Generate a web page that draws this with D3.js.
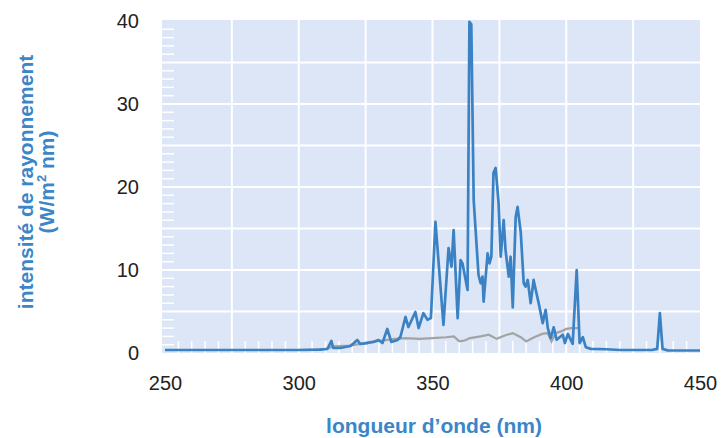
<!DOCTYPE html>
<html>
<head>
<meta charset="utf-8">
<script src="https://cdn.jsdelivr.net/npm/d3@7"></script>
<style>
  body { margin: 0; background: #fff; }
  svg { display: block; font-family: "Liberation Sans", Arial, sans-serif; }
</style>
</head>
<body>
<div id="chart"></div>
<script>
// lamp spectrum (blue)
const lampNm = [250, 280, 300, 308, 310.7, 312.2, 312.9, 315.5, 319.3, 321.9, 323.0, 325.7, 327.9, 329.8,
  331.3, 333.1, 334.6, 336.9, 338.0, 339.9, 341.0, 343.6, 344.8, 346.6, 348.1, 349.4, 351.1, 354.1,
  356.0, 357.1, 357.9, 359.4, 360.5, 361.2, 363.1, 363.8, 364.5, 365.4, 367.2, 368.0, 368.7, 369.1, 370.6,
  371.3, 372.0, 372.8, 373.6, 374.7, 375.5, 376.6, 377.3, 378.5, 379.2, 380.0, 381.1, 381.8, 383.0,
  384.1, 384.8, 385.6, 386.7, 387.8, 388.6, 389.7, 391.2, 392.3, 393.1, 394.2, 395.3, 396.4, 398.7,
  399.5, 400.6, 402.4, 403.9, 405.0, 406.2, 407.3, 409.2, 415, 420, 432, 434, 435, 436, 438, 450];
const lampVal = [0.36, 0.36, 0.36, 0.4, 0.48, 1.45, 0.6, 0.6, 0.84, 1.57, 1.08, 1.2, 1.33, 1.57,
  1.2, 2.9, 1.33, 1.57, 1.93, 4.34, 3.13, 4.94, 3.0, 4.8, 4.0, 4.2, 15.8, 3.4,
  12.65, 10.4, 14.8, 4.2, 11.2, 10.8, 7.6, 39.9, 39.6, 18.4, 9.4, 8.4, 9.2, 6.2, 12.0,
  10.8, 11.6, 21.7, 22.3, 18.1, 11.6, 16.0, 12.4, 9.2, 11.6, 5.5, 16.4, 17.6, 14.5,
  8.4, 8.0, 8.8, 6.0, 8.8, 7.6, 6.0, 3.6, 5.2, 3.0, 1.8, 3.1, 1.6, 2.2,
  1.2, 2.3, 1.1, 10.0, 1.2, 1.9, 0.7, 0.5, 0.45, 0.36, 0.36, 0.5, 4.8, 0.5, 0.3, 0.3];

// reference spectrum (grey)
const sunNm = [300, 306, 310, 313, 319, 323, 326, 331, 336, 340, 345, 350, 355, 358, 360, 362, 364,
  368, 371, 374, 377, 380, 383, 385, 388, 391, 393, 394.5, 396, 398, 400, 402, 405];
const sunVal = [0.36, 0.4, 0.5, 0.8, 0.9, 1.1, 1.3, 1.5, 1.7, 1.8, 1.7, 1.8, 1.9, 2.0, 1.4, 1.5, 1.8,
  2.0, 2.2, 1.7, 2.1, 2.4, 1.9, 1.4, 1.9, 2.3, 2.4, 1.4, 2.4, 2.6, 2.9, 3.0, 3.0];

const xTicks = [250, 300, 350, 400, 450];
const yTicks = [0, 10, 20, 30, 40];
const xGrid = [275, 300, 325, 350, 375, 400, 425];
const yGrid = [5, 10, 15, 20, 25, 30, 35];

const WIDTH = 721;
const HEIGHT = 438;
const LEFT = 162, RIGHT = 700, TOP = 20, BOTTOM = 353;
const BLUE = '#3a86c8';

const svg = d3.select('#chart').append('svg')
  .attr('width', WIDTH)
  .attr('height', HEIGHT);

const x = d3.scaleLinear().domain([250, 450]).range([165, 700]);
const y = d3.scaleLinear().domain([0, 40]).range([BOTTOM, 21]);

// plot background
svg.append('rect')
  .attr('x', LEFT).attr('y', TOP)
  .attr('width', RIGHT - LEFT).attr('height', BOTTOM - TOP)
  .attr('fill', '#dce6f6');

// grid
svg.selectAll('.vgrid').data(xGrid).enter().append('line')
  .attr('x1', d => x(d)).attr('x2', d => x(d))
  .attr('y1', TOP).attr('y2', BOTTOM)
  .attr('stroke', '#fff').attr('stroke-width', 2);
svg.selectAll('.hgrid').data(yGrid).enter().append('line')
  .attr('x1', LEFT).attr('x2', RIGHT)
  .attr('y1', d => y(d)).attr('y2', d => y(d))
  .attr('stroke', '#fff').attr('stroke-width', 2);

// small white ticks inside the plot
const yMinor = d3.range(1, 40).filter(d => d % 5 != 0);
svg.selectAll('.yminor').data(yMinor).enter().append('line')
  .attr('x1', LEFT).attr('x2', LEFT + 12)
  .attr('y1', d => y(d)).attr('y2', d => y(d))
  .attr('stroke', '#fff').attr('stroke-width', 1.5);
const xMinor = d3.range(255, 450, 5);
svg.selectAll('.xminor').data(xMinor).enter().append('line')
  .attr('x1', d => x(d)).attr('x2', d => x(d))
  .attr('y1', BOTTOM - 12).attr('y2', BOTTOM)
  .attr('stroke', '#fff').attr('stroke-width', 1.5);

// lines
const line = d3.line()
  .x(d => x(d[0]))
  .y(d => y(d[1]));

svg.append('path')
  .datum(d3.zip(sunNm, sunVal))
  .attr('d', line)
  .attr('fill', 'none')
  .attr('stroke', '#a3a3a3')
  .attr('stroke-width', 2.2);

svg.append('path')
  .datum(d3.zip(lampNm, lampVal))
  .attr('d', line)
  .attr('fill', 'none')
  .attr('stroke', '#3b82c4')
  .attr('stroke-width', 2.7)
  .attr('stroke-linejoin', 'round');

// axes (labels only)
const xAxis = svg.append('g')
  .attr('transform', 'translate(0,' + BOTTOM + ')')
  .call(d3.axisBottom(x).tickValues(xTicks).tickSize(0).tickPadding(23).tickFormat(d3.format('d')));
const yAxis = svg.append('g')
  .attr('transform', 'translate(' + LEFT + ',0)')
  .call(d3.axisLeft(y).tickValues(yTicks).tickSize(0).tickPadding(23).tickFormat(d3.format('d')));
[xAxis, yAxis].forEach(g => {
  g.select('.domain').remove();
  g.selectAll('text')
    .attr('fill', '#222')
    .style('font-size', '20px')
    .style('font-family', '"Liberation Sans", Arial, sans-serif');
});

// titles
svg.append('text')
  .attr('x', 434)
  .attr('y', 433)
  .attr('text-anchor', 'middle')
  .attr('fill', BLUE)
  .style('font-size', '21px')
  .style('font-weight', 'bold')
  .text('longueur d\u2019onde (nm)');

svg.append('text')
  .attr('transform', 'translate(33,182) rotate(-90)')
  .attr('text-anchor', 'middle')
  .attr('fill', BLUE)
  .style('font-size', '21px')
  .style('font-weight', 'bold')
  .text('intensité de rayonnement');

const unit = svg.append('text')
  .attr('transform', 'translate(54,182) rotate(-90)')
  .attr('text-anchor', 'middle')
  .attr('fill', BLUE)
  .style('font-size', '21px')
  .style('font-weight', 'bold');
unit.append('tspan').text('(W/m');
unit.append('tspan').attr('dy', -8).style('font-size', '13px').text('2');
unit.append('tspan').attr('dy', 8).text(' nm)');
</script>
</body>
</html>
